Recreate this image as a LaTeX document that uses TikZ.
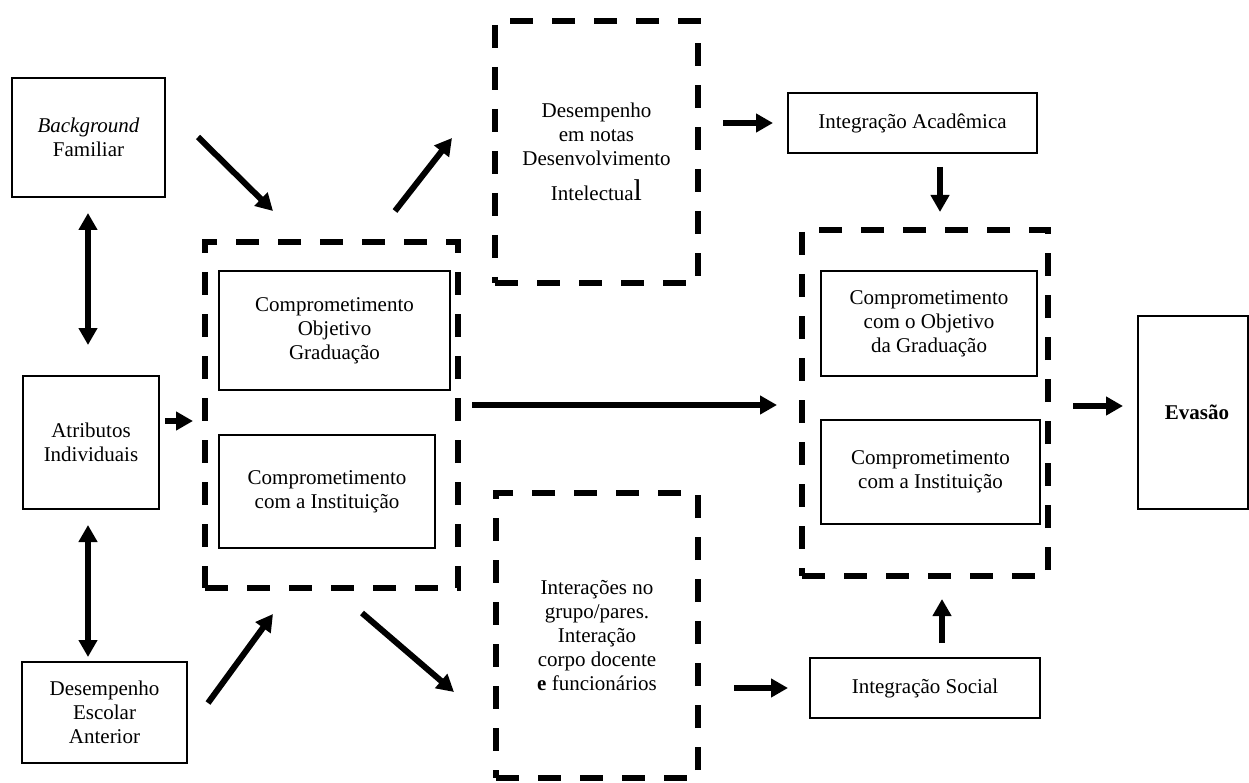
\documentclass[tikz,border=0pt]{standalone}
\usepackage{fontspec}
\setmainfont{Liberation Serif}
\usetikzlibrary{arrows.meta}
\begin{document}
\begin{tikzpicture}[x=1pt,y=-1pt,
 box/.style={draw, line width=1.6pt, inner sep=0pt, outer sep=0pt, align=center, font=\fontsize{21}{24}\selectfont},
 dbox/.style={draw, line width=6pt, dash pattern=on 23pt off 19pt, inner sep=0pt, outer sep=0pt, align=center, font=\fontsize{21}{24}\selectfont},
 arr/.style={line width=6pt, -{Triangle[length=17pt,width=18pt]}},
 darr/.style={line width=6pt, {Triangle[length=17pt,width=18pt]}-{Triangle[length=17pt,width=18pt]}}]
\useasboundingbox (0,0) rectangle (1249,783);
\fill[white] (0,0) rectangle (1249,783);

\node[box, minimum width=153pt, minimum height=119pt] (bf) at (88.5,137.5) {\textit{Background}\\Familiar};
\node[box, minimum width=136pt, minimum height=133pt] (ai) at (91,442.5) {Atributos\\Individuais};
\node[box, minimum width=165pt, minimum height=101pt] (dea) at (104.5,712.5) {Desempenho\\Escolar\\Anterior};
\node[dbox, minimum width=253pt, minimum height=346pt] (ld) at (331.5,415) {};
\node[box, minimum width=231pt, minimum height=119pt] (cog) at (334.5,330.5) {Comprometimento\\Objetivo\\Graduação};
\node[box, minimum width=216pt, minimum height=113pt] (cil) at (327,491.5) {Comprometimento\\com a Instituição};
\node[dbox, minimum width=203pt, minimum height=262pt] (td) at (596.5,152) {Desempenho\\em notas\\Desenvolvimento\\[11pt]Intelectua{\fontsize{30}{30}\selectfont l}};
\node[dbox, minimum width=202pt, minimum height=285pt] (bd) at (597,635.5) {Interações no\\grupo/pares.\\Interação\\corpo docente\\\textbf{e} funcionários};
\node[box, minimum width=249pt, minimum height=60pt] (ia) at (912.5,123) {Integração Acadêmica};
\node[dbox, minimum width=246pt, minimum height=346pt] (rd) at (925,403) {};
\node[box, minimum width=216pt, minimum height=105pt] (cogr) at (929,323.5) {Comprometimento\\com o Objetivo\\da Graduação};
\node[box, minimum width=219pt, minimum height=104pt] (cir) at (930.5,472) {Comprometimento\\com a Instituição};
\node[box, minimum width=110pt, minimum height=193pt] (ev) at (1193,412.5) {\hspace{8pt}\textbf{Evasão}};
\node[box, minimum width=230pt, minimum height=60pt] (is) at (925,688) {Integração Social};

% diagonal arrow ends
\coordinate (bfs) at (198,137); \coordinate (bfe) at (273,211);
\coordinate (deas) at (208,703); \coordinate (deae) at (273,614);
\coordinate (tds) at (395,211); \coordinate (tde) at (452,138);
\coordinate (bds) at (362,613); \coordinate (bde) at (454,692);
\draw[arr] (bfs) -- (bfe);
\draw[arr] (deas) -- (deae);
\draw[arr] (tds) -- (tde);
\draw[arr] (bds) -- (bde);

% straight arrows
\draw[darr, shorten <=16pt, shorten >=31pt] ([xshift=-0.5pt]bf.south) -- ([xshift=-0.5pt]bf.south |- ai.north);
\draw[darr, shorten <=16pt, shorten >=5pt] ([xshift=-3pt]ai.south) -- ([xshift=-3pt]ai.south |- dea.north);
\draw[arr, shorten <=6pt, shorten >=12pt] ([yshift=21.5pt]ai.east) -- ([yshift=21.5pt]ai.east -| ld.west);
\draw[arr, shorten <=25pt, shorten >=15pt] (td.east |- ia.west) -- (ia.west);
\draw[arr, shorten <=14pt, shorten >=18pt] ([xshift=27.5pt]ia.south) -- ([xshift=27.5pt]ia.south |- rd.north);
\draw[arr, shorten <=14pt, shorten >=25pt] ([yshift=10pt]ld.east) -- ([yshift=10pt]ld.east -| rd.west);
\draw[arr, shorten <=25pt, shorten >=15pt] ([yshift=-3pt]rd.east) -- ([yshift=-3pt]rd.east -| ev.west);
\draw[arr, shorten <=36pt, shorten >=22pt] (is.west -| bd.east) -- (is.west);
\draw[arr, shorten <=15pt, shorten >=23pt] ([xshift=17pt]is.north) -- ([xshift=17pt]is.north |- rd.south);
\end{tikzpicture}
\end{document}
